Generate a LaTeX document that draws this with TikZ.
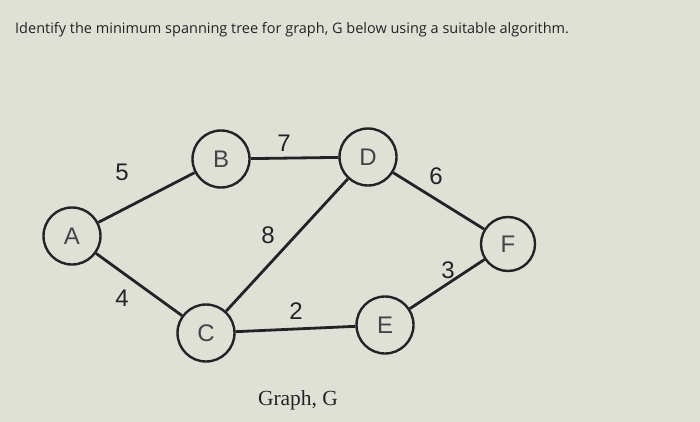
\documentclass[tikz,border=0pt]{standalone}
\usepackage{fontspec}
\setmainfont{Liberation Sans}
\newfontfamily\titlefont{Open Sans}
\newfontfamily\capfont{Liberation Serif}
\definecolor{bgc}{RGB}{223,225,215}
\definecolor{ink}{RGB}{35,35,38}
\begin{document}
\begin{tikzpicture}[x=1pt,y=-1pt,
  vtx/.style={circle,draw=ink,line width=2.4pt,minimum size=57pt,inner sep=0pt,font=\fontsize{24}{24}\selectfont,text=ink!85},
  edge/.style={draw=ink,line width=2.8pt},
  wt/.style={font=\fontsize{24}{24}\selectfont,text=ink,inner sep=0pt}]
\fill[bgc] (0,0) rectangle (700,422);
\useasboundingbox (0,0) rectangle (700,422);
\node[anchor=west,inner sep=0pt,text=ink,font=\titlefont\fontsize{14.5}{15}\selectfont] (title) at (15,30) {Identify the minimum spanning tree for graph, G below using a suitable algorithm.};
\node[vtx] (A) at (72,236) {A};
\node[vtx] (B) at (221,159) {B};
\node[vtx] (C) at (206,333) {C};
\node[vtx] (D) at (368,157) {D};
\node[vtx] (E) at (385,325) {E};
\node[vtx,minimum size=54pt] (F) at (508,244) {F};
\draw[edge] (A) -- (B);
\draw[edge] (A) -- (C);
\draw[edge] (B) -- (D);
\draw[edge] (C) -- (D);
\draw[edge] (C) -- (E);
\draw[edge] (D) -- (F);
\draw[edge] (E) -- (F);
\node[wt] (w5) at (122,172) {5};
\node[wt] (w7) at (284,143) {7};
\node[wt] (w8) at (268,235) {8};
\node[wt] (w4) at (122,298) {4};
\node[wt] (w2) at (296,311) {2};
\node[wt] (w6) at (436,176) {6};
\node[wt] (w3) at (448,270) {3};
\node[inner sep=0pt,text=ink,font=\capfont\fontsize{21.5}{22}\selectfont] (cap) at (298,400) {Graph, G};
\end{tikzpicture}
\end{document}
